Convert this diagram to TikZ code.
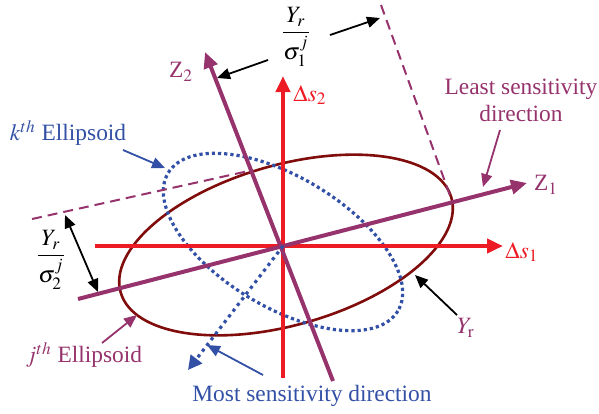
\documentclass[tikz,border=0pt]{standalone}
\usepackage{amsmath}
\usepackage{mathptmx}
\usepackage{fontspec}
\setmainfont{Liberation Serif}
\usetikzlibrary{arrows.meta}
\definecolor{AxisRed}{RGB}{237,28,36}
\definecolor{PlumAxis}{RGB}{150,50,108}
\definecolor{EllipseRed}{RGB}{128,12,12}
\definecolor{SensBlue}{RGB}{50,80,165}

\begin{document}
\begin{tikzpicture}[x=0.5pt, y=-0.5pt, font=\fontsize{11.7}{13.5}\selectfont,
  axisline/.style={line width=2pt},
  bigtip/.style={-{Triangle[length=8pt,width=7pt]}},
  pointer/.style={-{Triangle[length=6.5pt,width=5.5pt]}, line width=0.9pt},
  tangent/.style={PlumAxis, line width=1pt, dash pattern=on 5pt off 3pt}]
  \useasboundingbox (0,0) rectangle (599,413);

  % Origin and the two parameter axes
  \coordinate (O) at (283,246);
  \coordinate (S1tail) at (95,246);
  \coordinate (S1tip) at (503,246);
  \coordinate (S2tail) at (283,378);
  \coordinate (S2tip) at (283,76);

  % Principal axes of the j-th ellipsoid
  \coordinate (Z1tail) at (78,299);
  \coordinate (Z1tip) at (527,183);
  \coordinate (Z2tail) at (333,381);
  \coordinate (Z2tip) at (205,52);

  % Tangent lines at the ends of the axes
  \coordinate (TopA) at (381,5);
  \coordinate (TopB) at (452,201);
  \coordinate (LeftA) at (32,219);
  \coordinate (LeftB) at (253,170);

  % Most sensitivity direction
  \coordinate (MostTip) at (188,370);

  % j-th ellipsoid (solid) and k-th ellipsoid (dotted)
  \draw[EllipseRed, line width=1.3pt, shift={(286,245)}, rotate=16]
    (0,0) ellipse [x radius=172, y radius=80];
  \draw[SensBlue, line width=1.6pt, dash pattern=on 1.6pt off 1.5pt, shift={(283,242)}, rotate=-31]
    (0,0) ellipse [x radius=134, y radius=65];

  % Dashed tangents
  \draw[tangent] (TopA) -- (TopB);
  \draw[tangent] (LeftA) -- (LeftB);

  % Parameter axes
  \draw[AxisRed, axisline, bigtip] (S1tail) -- (S1tip);
  \draw[AxisRed, axisline, bigtip] (S2tail) -- (S2tip);

  % Rotated axes
  \draw[PlumAxis, axisline, bigtip] (Z1tail) -- (Z1tip);
  \draw[PlumAxis, axisline, bigtip] (Z2tail) -- (Z2tip);

  % Most sensitivity direction
  \draw[SensBlue, line width=1.6pt, dash pattern=on 1.6pt off 2pt, -{Triangle[length=7pt,width=7pt]}] (O) -- (MostTip);

  % Labels
  \node[text=AxisRed] (s1lab) at (522,252) {$\Delta s_1$};
  \node[text=AxisRed] (s2lab) at (310,95) {$\Delta s_2$};
  \node[text=PlumAxis] (z1lab) at (546,185) {Z$_1$};
  \node[text=PlumAxis] (z2lab) at (181,72) {Z$_2$};
  \node (sig1) at (296,37) {$\dfrac{Y_r}{\sigma_1^j}$};
  \node (sig2) at (51,260) {$\dfrac{Y_r}{\sigma_2^j}$};
  \node[text=PlumAxis, align=center] (least) at (521,100) {Least sensitivity\\direction};
  \node[text=SensBlue] (most) at (312,396) {Most sensitivity direction};
  \node[text=SensBlue] (kell) at (68,133) {$k^{th}$ Ellipsoid};
  \node[text=PlumAxis] (jell) at (84,355) {$j^{th}$ Ellipsoid};
  \node[text=PlumAxis] (yrlab) at (466,328) {$Y_{\mathrm{r}}$};

  % Pointer ends
  \coordinate (p1a) at (268,60);  \coordinate (p1b) at (217,78);
  \coordinate (p2a) at (330,35);  \coordinate (p2b) at (380,18);
  \coordinate (p3a) at (65,215);  \coordinate (p3b) at (98,292);
  \coordinate (p4a) at (123,150); \coordinate (p4b) at (165,168);
  \coordinate (p5a) at (102,343); \coordinate (p5b) at (137,315);
  \coordinate (p6a) at (263,375); \coordinate (p6b) at (207,345);
  \coordinate (p7a) at (457,315); \coordinate (p7b) at (415,275);
  \coordinate (p8a) at (500,130); \coordinate (p8b) at (483,187);

  % Pointers
  \draw[pointer] (p1a) -- (p1b);
  \draw[pointer] (p2a) -- (p2b);
  \draw[pointer, {Triangle[length=6.5pt,width=5.5pt]}-{Triangle[length=6.5pt,width=5.5pt]}] (p3a) -- (p3b);
  \draw[pointer, SensBlue] (p4a) -- (p4b);
  \draw[pointer, PlumAxis] (p5a) -- (p5b);
  \draw[pointer, SensBlue] (p6a) -- (p6b);
  \draw[pointer] (p7a) -- (p7b);
  \draw[pointer, PlumAxis] (p8a) -- (p8b);
\end{tikzpicture}
\end{document}
